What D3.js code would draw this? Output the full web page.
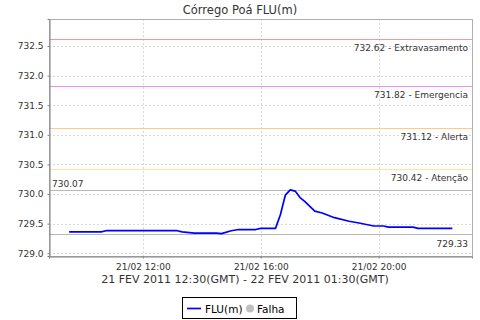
<!DOCTYPE html>
<html>
<head>
<meta charset="utf-8">
<script src="https://cdn.jsdelivr.net/npm/d3@7"></script>
<style>
body { margin: 0; background: #fff; }
text { font-family: "DejaVu Sans", sans-serif; fill: #333; }
</style>
</head>
<body>
<div id="chart"></div>
<script>
// leituras do dia 21/02/2011 (hora local)
const times = ["09:30", "10:35", "10:45", "13:10", "13:20", "13:45", "14:30", "14:40", "15:00", "15:15",
    "15:50", "16:00", "16:30", "16:40", "16:50", "17:00", "17:10", "17:20", "17:30", "17:50",
    "18:05", "18:30", "19:00", "19:20", "19:50", "20:10", "20:20", "21:10", "21:20", "22:30"];
const levels = [729.36, 729.36, 729.38, 729.38, 729.36, 729.34, 729.34, 729.33, 729.38, 729.40,
    729.40, 729.42, 729.42, 729.65, 729.98, 730.07, 730.05, 729.94, 729.87, 729.71,
    729.68, 729.60, 729.54, 729.51, 729.46, 729.46, 729.44, 729.44, 729.42, 729.42];

const thresholdValues = [732.62, 731.82, 731.12, 730.42];
const thresholdNames = ["Extravasamento", "Emergencia", "Alerta", "Atenção"];
const thresholdColors = ["#f09a9a", "#ec90ec", "#ffc98a", "#f5e6a0"];

const yTicks = [729.0, 729.5, 730.0, 730.5, 731.0, 731.5, 732.0, 732.5];
const chartTitle = "Córrego Poá FLU(m)";
const subTitle = "21 FEV 2011 12:30(GMT) - 22 FEV 2011 01:30(GMT)";
const legendNames = ["FLU(m)", "Falha"];

const W = 480, H = 320;
const plot = { left: 49, top: 19, right: 472, bottom: 256 };

const parseTime = d3.timeParse("%d/%m/%Y %H:%M");
const data = times.map((t, i) => ({ date: parseTime("21/02/2011 " + t), value: levels[i] }));

const svg = d3.select("#chart").append("svg")
    .attr("width", W)
    .attr("height", H)
    .attr("xmlns", "http://www.w3.org/2000/svg");

const x = d3.scaleTime()
    .domain([parseTime("21/02/2011 08:49"), parseTime("21/02/2011 23:10")])
    .range([plot.left, plot.right]);

const y = d3.scaleLinear()
    .domain([728.953, 732.956])
    .range([plot.bottom, plot.top]);

const xTicks = x.ticks(d3.timeHour.every(4));

// grade
const grid = svg.append("g").attr("class", "grid");
grid.selectAll(".gx").data(xTicks).enter().append("line")
    .attr("x1", d => Math.round(x(d)) + 0.5).attr("x2", d => Math.round(x(d)) + 0.5)
    .attr("y1", plot.top).attr("y2", plot.bottom)
    .attr("stroke", "#d8d8d8").attr("stroke-dasharray", "2,2");
grid.selectAll(".gy").data(yTicks).enter().append("line")
    .attr("y1", d => Math.round(y(d)) + 0.5).attr("y2", d => Math.round(y(d)) + 0.5)
    .attr("x1", plot.left).attr("x2", plot.right)
    .attr("stroke", "#d8d8d8").attr("stroke-dasharray", "2,2");

// cotas de referencia
const thr = svg.append("g");
thresholdValues.forEach(function(v, i) {
    let py = Math.round(y(v)) + 0.5;
    thr.append("line")
        .attr("x1", plot.left).attr("x2", plot.right)
        .attr("y1", py).attr("y2", py)
        .attr("stroke", thresholdColors[i]).attr("stroke-width", 1);
    thr.append("text")
        .attr("x", plot.right - 4).attr("y", py + 11)
        .attr("text-anchor", "end")
        .style("font-size", "9px")
        .text(v.toFixed(2) + " - " + thresholdNames[i]);
});

// maximo e minimo
const maxV = d3.max(levels), minV = d3.min(levels);
let pyMax = Math.round(y(maxV)) + 0.5, pyMin = Math.round(y(minV)) + 0.5;
thr.append("line").attr("x1", plot.left).attr("x2", plot.right)
    .attr("y1", pyMax).attr("y2", pyMax).attr("stroke", "#b8b8b8");
thr.append("text").attr("x", plot.left + 3).attr("y", pyMax - 4)
    .style("font-size", "9px").text(maxV.toFixed(2));
thr.append("line").attr("x1", plot.left).attr("x2", plot.right)
    .attr("y1", pyMin).attr("y2", pyMin).attr("stroke", "#b8b8b8");
thr.append("text").attr("x", plot.right - 4).attr("y", pyMin + 12)
    .attr("text-anchor", "end")
    .style("font-size", "9px").text(minV.toFixed(2));

// serie
const line = d3.line().x(d => x(d.date)).y(d => y(d.value));
svg.append("path").datum(data)
    .attr("d", line)
    .attr("fill", "none")
    .attr("stroke", "#0000ff")
    .attr("stroke-width", 1.7)
    .attr("stroke-linejoin", "round");

// borda
svg.append("rect")
    .attr("x", plot.left + 0.5).attr("y", plot.top + 0.5)
    .attr("width", plot.right - plot.left).attr("height", plot.bottom - plot.top)
    .attr("fill", "none").attr("stroke", "#b0b0b0");

// eixos
const yAxis = svg.append("g")
    .attr("transform", "translate(" + (plot.left + 0.5) + ",0)")
    .call(d3.axisLeft(y).tickValues(yTicks).tickFormat(d3.format(".1f")).tickSize(2).tickPadding(4));
const xAxis = svg.append("g")
    .attr("transform", "translate(0," + (plot.bottom + 0.5) + ")")
    .call(d3.axisBottom(x).tickValues(xTicks).tickFormat(d3.timeFormat("%d/%m %H:%M")).tickSize(2).tickPadding(5));
[yAxis, xAxis].forEach(function(a) {
    a.select(".domain").attr("stroke", "#808080");
    a.selectAll(".tick line").attr("stroke", "#808080");
    a.selectAll(".tick text").attr("fill", "#333").style("font-size", "9px")
        .style("font-family", "DejaVu Sans");
});

// titulos
svg.append("text")
    .attr("x", 240).attr("y", 13.5)
    .attr("text-anchor", "middle")
    .style("font-size", "11.5px")
    .text(chartTitle);
svg.append("text")
    .attr("x", 245).attr("y", 283)
    .attr("text-anchor", "middle")
    .style("font-size", "11px")
    .text(subTitle);

// legenda
const lg = svg.append("g");
lg.append("rect")
    .attr("x", 182.5).attr("y", 297.5).attr("width", 114).attr("height", 21)
    .attr("fill", "#fff").attr("stroke", "#000");
lg.append("line")
    .attr("x1", 187).attr("x2", 201).attr("y1", 308.5).attr("y2", 308.5)
    .attr("stroke", "#0000ff").attr("stroke-width", 1.7);
lg.append("text").attr("x", 205).attr("y", 312.5)
    .style("font-size", "10.5px").style("fill", "#000").text(legendNames[0]);
lg.append("circle").attr("cx", 250).attr("cy", 308.5).attr("r", 4)
    .attr("fill", "#c0c0c0");
lg.append("text").attr("x", 257).attr("y", 312.5)
    .style("font-size", "10.5px").style("fill", "#000").text(legendNames[1]);
</script>
</body>
</html>
